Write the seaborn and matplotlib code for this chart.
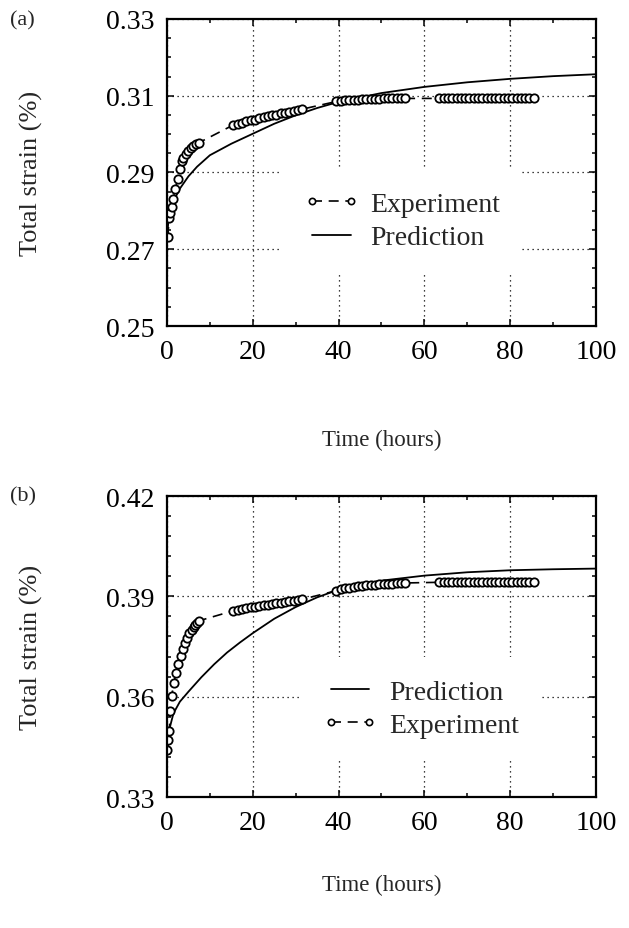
import matplotlib
matplotlib.use("Agg")
import matplotlib.pyplot as plt
import seaborn as sns
from matplotlib.ticker import MultipleLocator, FixedLocator
from matplotlib.lines import Line2D

# panel (a) - measured total strain
exp_a_time = [0.2, 0.5, 0.7, 1.1, 1.5, 1.9, 2.5, 3.0, 3.4, 3.8, 4.4, 5.0, 5.5, 6.1, 6.8, 7.5,
              15.5, 16.5, 17.5, 18.5, 19.5, 20.5, 21.5, 22.5, 23.5, 24.5, 25.5, 26.5, 27.5, 28.5, 29.5, 30.5, 31.5,
              39.5, 40.5, 41.5, 42.5, 43.5, 44.5, 45.5, 46.5, 47.5, 48.5, 49.5, 50.5, 51.5, 52.5, 53.5, 54.5, 55.5,
              63.5, 64.5, 65.5, 66.5, 67.5, 68.5, 69.5, 70.5, 71.5, 72.5, 73.5, 74.5, 75.5, 76.5, 77.5, 78.5,
              79.5, 80.5, 81.5, 82.5, 83.5, 84.5, 85.5]
exp_a_strain = [0.2732, 0.2782, 0.2795, 0.2810, 0.2832, 0.2856, 0.2882, 0.2908, 0.2931, 0.2938, 0.2949,
                0.2957, 0.2965, 0.2969, 0.2973, 0.2978,
                0.3024, 0.3027, 0.3030, 0.3033, 0.3036, 0.3038, 0.3041, 0.3044, 0.3046, 0.3049, 0.3051,
                0.3054, 0.3056, 0.3058, 0.3060, 0.3063, 0.3065,
                0.3085, 0.3087, 0.3088, 0.3089, 0.3090, 0.3090, 0.3091, 0.3091, 0.3092, 0.3092, 0.3092,
                0.3093, 0.3093, 0.3093, 0.3093, 0.3093, 0.3093,
                0.3093, 0.3093, 0.3093, 0.3093, 0.3093, 0.3093, 0.3093, 0.3093, 0.3093, 0.3093, 0.3093,
                0.3093, 0.3093, 0.3093, 0.3093, 0.3093, 0.3093, 0.3093, 0.3093, 0.3093, 0.3093, 0.3093, 0.3093]

# panel (a) - model prediction
pred_a_time = [0, 0.3, 0.7, 1.5, 3, 5, 7, 10, 15, 20, 25, 30, 35, 40, 50, 60, 70, 80, 90, 100]
pred_a_strain = [0.2730, 0.2770, 0.2795, 0.2825, 0.2858, 0.2890, 0.2915, 0.2945, 0.2975, 0.3001,
                 0.3027, 0.3049, 0.3068, 0.3084, 0.3107, 0.3123, 0.3135, 0.3144, 0.3151, 0.3156]
yticks_a = [0.25, 0.27, 0.29, 0.31, 0.33]

# panel (b) - measured total strain
exp_b_time = [0.1, 0.3, 0.55, 0.7, 1.1, 1.6, 2.1, 2.6, 3.2, 3.65, 4.2, 4.6, 5.2, 5.75, 6.2, 6.5, 7.0, 7.5,
              15.5, 16.5, 17.5, 18.5, 19.5, 20.5, 21.5, 22.5, 23.5, 24.5, 25.5, 26.5, 27.5, 28.5, 29.5, 30.5, 31.5,
              39.5, 40.5, 41.5, 42.5, 43.5, 44.5, 45.5, 46.5, 47.5, 48.5, 49.5, 50.5, 51.5, 52.5, 53.5, 54.5, 55.5,
              63.5, 64.5, 65.5, 66.5, 67.5, 68.5, 69.5, 70.5, 71.5, 72.5, 73.5, 74.5, 75.5, 76.5, 77.5, 78.5,
              79.5, 80.5, 81.5, 82.5, 83.5, 84.5, 85.5]
exp_b_strain = [0.3440, 0.3470, 0.3496, 0.3558, 0.3603, 0.3641, 0.3671, 0.3698, 0.3722, 0.3742, 0.3760,
                0.3774, 0.3789, 0.3800, 0.3808, 0.3814, 0.3821, 0.3827,
                0.3857, 0.3860, 0.3863, 0.3865, 0.3867, 0.3869, 0.3871, 0.3873, 0.3875, 0.3877, 0.3879,
                0.3881, 0.3883, 0.3885, 0.3887, 0.3889, 0.3891,
                0.3917, 0.3921, 0.3924, 0.3926, 0.3928, 0.3930, 0.3932, 0.3933, 0.3934, 0.3935, 0.3936,
                0.3937, 0.3938, 0.3938, 0.3939, 0.3939, 0.3940,
                0.3942, 0.3942, 0.3942, 0.3942, 0.3942, 0.3942, 0.3942, 0.3942, 0.3942, 0.3942, 0.3942,
                0.3942, 0.3942, 0.3942, 0.3942, 0.3942, 0.3942, 0.3942, 0.3942, 0.3942, 0.3942, 0.3942, 0.3942]

# panel (b) - model prediction
pred_b_time = [0, 0.3, 0.7, 1.5, 3, 5, 8, 11, 14, 17, 20, 25, 30, 35, 40, 50, 60, 70, 80, 90, 100]
pred_b_strain = [0.3420, 0.3470, 0.3510, 0.3550, 0.3585, 0.3615, 0.3658, 0.3697, 0.3732, 0.3762, 0.3790,
                 0.3833, 0.3868, 0.3897, 0.3920, 0.3947, 0.3962, 0.3972, 0.3978, 0.3981, 0.3983]
yticks_b = [0.33, 0.36, 0.39, 0.42]

xticks = [0, 20, 40, 60, 80, 100]

sns.set_theme(style="ticks")
plt.rcParams['font.family'] = ['Liberation Serif', 'DejaVu Serif']

fig = plt.figure(figsize=(6.29, 9.29), dpi=100)
ax_a = fig.add_axes([0.2655, 0.648, 0.682, 0.3305])
ax_b = fig.add_axes([0.2655, 0.141, 0.682, 0.324])

dash = (0, (6, 4))


def draw_panel(ax, et, es, pt, ps, yticks, yminor, order, anchor, xlab_y, tag, tag_y):
    ax.set_axisbelow(True)
    ax.grid(True, which='major', color='black', linestyle=(0, (1, 3)), linewidth=0.9)
    sns.lineplot(x=pt, y=ps, ax=ax, color='black', linewidth=1.3, estimator=None, sort=False)
    sns.lineplot(x=et, y=es, ax=ax, color='black', linewidth=1.2, linestyle=dash,
                 marker='o', markersize=6, markerfacecolor='white',
                 markeredgecolor='black', markeredgewidth=1.3, estimator=None, sort=False)
    ax.set_xlim(xticks[0], xticks[-1])
    ax.set_ylim(yticks[0], yticks[-1])
    ax.xaxis.set_major_locator(FixedLocator(xticks))
    ax.xaxis.set_minor_locator(MultipleLocator(10))
    ax.yaxis.set_major_locator(FixedLocator(yticks))
    ax.yaxis.set_minor_locator(MultipleLocator(yminor))
    ax.yaxis.set_major_formatter(lambda v, p: f"{v:.2f}")
    ax.tick_params(which='both', direction='in', top=True, right=True, labelsize=20,
                   width=1.1, color='black', labelcolor='black')
    ax.tick_params(which='major', length=5, pad=9)
    ax.tick_params(which='minor', length=3)
    for s in ax.spines.values():
        s.set_linewidth(1.6)
        s.set_color('black')
    ax.set_xlabel("Time (hours)", fontsize=16.5)
    ax.set_ylabel("Total strain (%)", fontsize=19)
    ax.xaxis.set_label_coords(0.5, xlab_y)
    ax.yaxis.set_label_coords(-0.29, 0.5)

    exp_h = Line2D([], [], color='black', linewidth=1.2, linestyle=dash, marker='o',
                   markersize=4.5, markerfacecolor='white', markeredgecolor='black', markeredgewidth=1.2)
    pred_h = Line2D([], [], color='black', linewidth=1.3)
    hmap = {"Experiment": exp_h, "Prediction": pred_h}
    ax.legend([hmap[k] for k in order], order, loc='center left', bbox_to_anchor=anchor,
              frameon=True, facecolor='white', edgecolor='none', framealpha=1, fancybox=False,
              borderpad=0.8, borderaxespad=0, handlelength=2.0, handletextpad=0.4,
              labelspacing=0.28, fontsize=20, numpoints=2)
    fig.text(0.016, tag_y, tag, fontsize=16, va='center', ha='left')


draw_panel(ax_a, exp_a_time, exp_a_strain, pred_a_time, pred_a_strain, yticks_a, 0.005,
           ["Experiment", "Prediction"], (0.266, 0.342), -0.335, "(a)", 0.978)
draw_panel(ax_b, exp_b_time, exp_b_strain, pred_b_time, pred_b_strain, yticks_b, 0.006,
           ["Prediction", "Experiment"], (0.31, 0.294), -0.256, "(b)", 0.465)

fig.savefig("out.png", dpi=100)
